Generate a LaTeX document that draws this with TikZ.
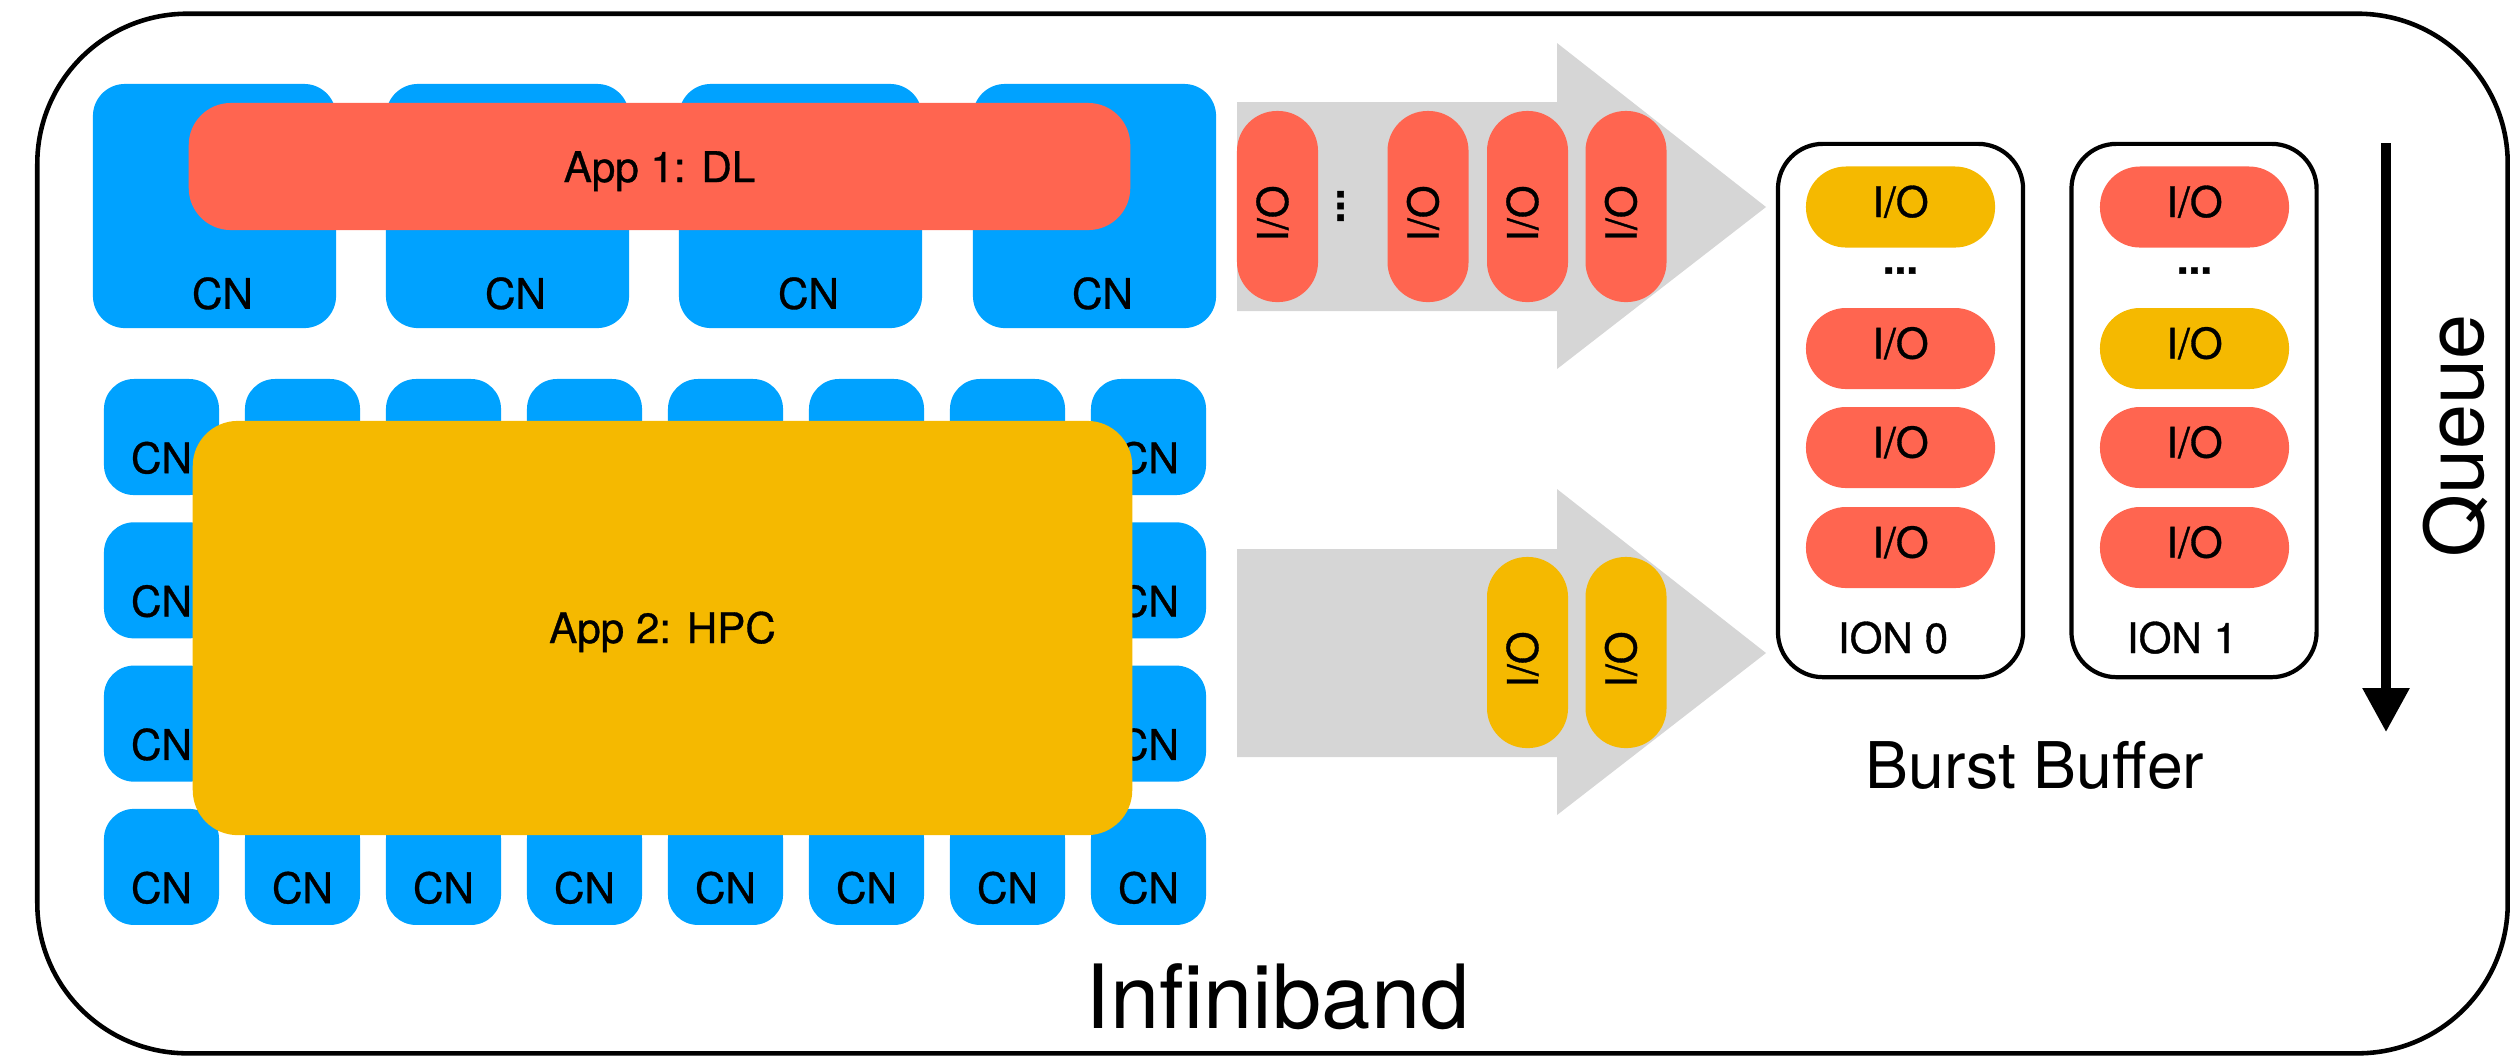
\documentclass[tikz,border=0pt]{standalone}
\usepackage{fontspec}
\setmainfont{TeX Gyre Heros}
\newfontfamily\medfont[FakeBold=0.8]{TeX Gyre Heros}
\usetikzlibrary{arrows.meta}
\definecolor{cnblue}{RGB}{0,162,255}
\definecolor{iored}{RGB}{255,101,80}
\definecolor{ioyel}{RGB}{245,185,0}
\definecolor{flowgray}{RGB}{214,214,214}
\newcommand\myfs[1]{\fontsize{#1}{#1}\selectfont}
\begin{document}
\begin{tikzpicture}[x=0.01cm,y=-0.01cm,
  box/.style={rectangle, inner sep=0pt, draw=none},
  bigcn/.style={box, fill=cnblue, minimum width=2.43cm, minimum height=2.44cm, rounded corners=0.32cm},
  smallcn/.style={box, fill=cnblue, minimum width=1.15cm, minimum height=1.16cm, rounded corners=0.3cm},
  lbl/.style={inner sep=0pt, font=\medfont\myfs{12pt}, text=black},
  vpill/.style={box, minimum width=0.81cm, minimum height=1.91cm, rounded corners=0.4cm},
  hpill/.style={box, minimum width=1.89cm, minimum height=0.81cm, rounded corners=0.4cm},
  ionbox/.style={rectangle, draw=black, line width=1.2pt, minimum width=2.45cm, minimum height=5.33cm, rounded corners=0.45cm, inner sep=0pt},
  bigtext/.style={inner sep=0pt, text=black}
]
\useasboundingbox (0,0) rectangle (2510,1056);

% Infiniband enclosure
\node[draw=black, line width=1.3pt, rounded corners=1.5cm, minimum width=24.69cm, minimum height=10.39cm, inner sep=0pt] (ib) at (1272.5,533.5) {};

% top compute nodes
\foreach \i/\x in {1/214.5,2/507.5,3/800.5,4/1094.5}{
  \node[bigcn] (cnt\i) at (\x,206) {};
  \node[lbl, anchor=base] (cntl\i) at ([xshift=0.08cm,yshift=0.2cm]cnt\i.south) {CN};
}
\node[box, fill=iored, minimum width=9.41cm, minimum height=1.27cm, rounded corners=0.42cm] (app1) at (659.5,166.5) {};
\node[lbl, anchor=base] (app1l) at (659.5,182) {App 1: DL};

% compute node grid
\foreach \r in {0,3}{
  \foreach \c in {0,...,7}{
    \node[smallcn] (cn-\r-\c) at ({161.5+141*\c},{437+143.3*\r}) {};
    \node[lbl, anchor=base] (cnl-\r-\c) at ([yshift=0.225cm]cn-\r-\c.south) {CN};
  }
}
\foreach \r in {1,2}{
  \foreach \c in {0,7}{
    \node[smallcn] (cn-\r-\c) at ({161.5+141*\c},{437+143.3*\r}) {};
    \node[lbl, anchor=base] (cnl-\r-\c) at ([yshift=0.225cm]cn-\r-\c.south) {CN};
  }
}
\node[box, fill=ioyel, minimum width=9.39cm, minimum height=4.14cm, rounded corners=0.45cm] (app2) at (662.5,628) {};
\node[lbl, anchor=base] (app2l) at (662.5,643) {App 2: HPC};

% flow arrows
\fill[flowgray] (1237,102) -- (1557,102) -- (1557,43) -- (1766,207) -- (1557,369) -- (1557,311) -- (1237,311) -- cycle;
\fill[flowgray] (1237,549) -- (1557,549) -- (1557,489) -- (1766,653) -- (1557,815) -- (1557,757) -- (1237,757) -- cycle;

\foreach \i/\x in {1/1277.5,2/1428,3/1527.5,4/1626}{
  \node[vpill, fill=iored] (tp\i) at (\x,206.5) {};
  \node[lbl, rotate=90] (tpl\i) at ([xshift=-0.05cm,yshift=-0.07cm]tp\i.center) {I/O};
}
\node[lbl, rotate=90] (tdots) at (1340.5,206) {\textbf{...}};

\foreach \i/\x in {1/1527.5,2/1626}{
  \node[vpill, fill=ioyel] (bp\i) at (\x,652.5) {};
  \node[lbl, rotate=90] (bpl\i) at ([xshift=-0.05cm,yshift=-0.07cm]bp\i.center) {I/O};
}

% burst buffer I/O nodes
\node[ionbox] (ion0) at (1900.5,410.5) {};
\node[ionbox] (ion1) at (2194,410.5) {};
\foreach \i/\y/\ca/\cb in {1/207/ioyel/iored, 2/348.5/iored/ioyel, 3/447.5/iored/iored, 4/547.5/iored/iored}{
  \node[hpill, fill=\ca] (qa\i) at (1900.5,\y) {};
  \node[lbl, anchor=base] (qal\i) at ([yshift=-0.10cm]qa\i.center) {I/O};
  \node[hpill, fill=\cb] (qb\i) at (2194.5,\y) {};
  \node[lbl, anchor=base] (qbl\i) at ([yshift=-0.10cm]qb\i.center) {I/O};
}
\node[lbl] (qad) at (1900.5,270.5) {\textbf{...}};
\node[lbl] (qbd) at (2194.5,270.5) {\textbf{...}};
\node[lbl, anchor=base] (ion0l) at (1893,653) {ION 0};
\node[lbl, anchor=base] (ion1l) at (2182,653) {ION 1};

% queue direction
\coordinate (qs) at (2386,143);
\coordinate (qe) at (2386,732);
\draw[line width=2.6pt, -{Triangle[width=0.45cm,length=0.44cm]}] (qs) -- (qe);
\node[bigtext, font=\myfs{23pt}, rotate=90, anchor=base] (queue) at (2483,436) {Queue};

\node[bigtext, font=\myfs{18.3pt}, anchor=base] (bb) at (2035,788) {Burst Buffer};
\node[bigtext, font=\myfs{25.2pt}, anchor=base] (ibl) at (1277.5,1028) {Infiniband};
\end{tikzpicture}
\end{document}
